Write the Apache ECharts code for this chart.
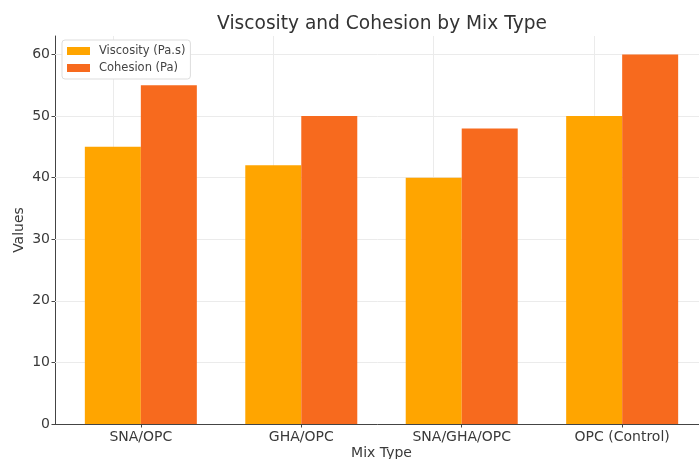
<!DOCTYPE html>
<html>
<head>
<meta charset="utf-8">
<script src="https://cdn.jsdelivr.net/npm/echarts@6/dist/echarts.min.js"></script>
<style>
  html, body { margin: 0; padding: 0; background: #fff; }
  #chart { width: 699px; height: 459px; }
</style>
</head>
<body>
<div id="chart"></div>
<script>
// Mix types and measured rheology values
const categories = ['SNA/OPC', 'GHA/OPC', 'SNA/GHA/OPC', 'OPC (Control)'];
const viscosity = [45, 42, 40, 50];   // Pa.s
const cohesion = [55, 50, 48, 60];    // Pa
const yTicks = [0, 10, 20, 30, 40, 50, 60];

const positions = categories.map((_, i) => i);
const toPoints = arr => arr.map((v, i) => [i, v]);

const FONT = 'DejaVu Sans';
const TEXT = '#3a3a3a';
const chart = echarts.init(document.getElementById('chart'), null, { renderer: 'canvas' });

chart.setOption({
  animation: false,
  backgroundColor: '#ffffff',
  textStyle: { fontFamily: FONT },
  title: {
    text: 'Viscosity and Cohesion by Mix Type',
    left: 377,
    textAlign: 'center',
    top: 10,
    textStyle: { fontFamily: FONT, fontSize: 18.6, fontWeight: 'normal', color: '#333333' }
  },
  legend: {
    orient: 'vertical',
    left: 62,
    top: 40,
    padding: [5, 5, 5, 5],
    itemGap: 5,
    itemWidth: 23,
    itemHeight: 8,
    backgroundColor: '#ffffff',
    borderColor: '#dddddd',
    borderWidth: 1,
    borderRadius: 3,
    icon: 'rect',
    textStyle: { fontFamily: FONT, fontSize: 11.5, color: '#444444', padding: [0, 0, 0, 4] },
    data: ['Viscosity (Pa.s)', 'Cohesion (Pa)']
  },
  grid: { left: 55, top: 36, width: 653, height: 388, outerBoundsMode: 'none', containLabel: false },
  xAxis: {
    type: 'value',
    min: -0.535,
    max: 3.535,
    name: 'Mix Type',
    nameLocation: 'middle',
    nameGap: 22,
    nameMoveOverlap: false,
    nameTextStyle: { fontFamily: FONT, fontSize: 14, color: TEXT, verticalAlign: 'top' },
    axisLine: { show: true, lineStyle: { color: '#444444', width: 1 } },
    axisTick: { show: true, customValues: positions, length: 3.5, inside: false, lineStyle: { color: '#444444' } },
    axisLabel: {
      customValues: positions,
      formatter: v => categories[Math.round(v)] || '',
      fontFamily: FONT, fontSize: 14, color: TEXT, margin: 6
    },
    splitLine: { show: false }
  },
  yAxis: {
    type: 'value',
    min: 0,
    max: 63,
    name: 'Values',
    nameLocation: 'middle',
    nameGap: 29,
    nameMoveOverlap: false,
    nameRotate: 90,
    nameTextStyle: { fontFamily: FONT, fontSize: 14, color: TEXT },
    axisLine: { show: true, onZero: false, lineStyle: { color: '#444444', width: 1 } },
    axisTick: { show: true, customValues: yTicks, length: 3.5, inside: false, lineStyle: { color: '#444444' } },
    axisLabel: {
      customValues: yTicks,
      fontFamily: FONT, fontSize: 14, color: TEXT, margin: 5
    },
    splitLine: { show: false }
  },
  series: [
    {
      name: 'Viscosity (Pa.s)',
      type: 'bar',
      z: 2,
      barWidth: 56,
      barGap: '0%',
      itemStyle: { color: '#FFA500' },
      data: toPoints(viscosity),
      markLine: {
        silent: true,
        z: 1,
        symbol: 'none',
        label: { show: false },
        lineStyle: { color: '#ebebeb', width: 1, type: 'solid' },
        data: positions.map(p => ({ xAxis: p })).concat(yTicks.slice(1).map(t => ({ yAxis: t })))
      }
    },
    {
      name: 'Cohesion (Pa)',
      type: 'bar',
      z: 2,
      barWidth: 56,
      barGap: '0%',
      itemStyle: { color: '#F76A1E' },
      data: toPoints(cohesion)
    }
  ]
});
</script>
</body>
</html>
